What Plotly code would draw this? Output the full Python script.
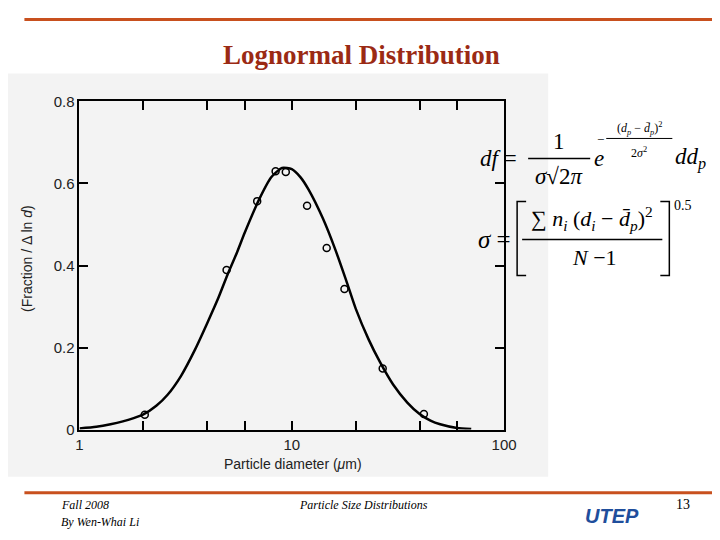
import plotly.graph_objects as go

# data
pt_d = [2.03, 4.93, 6.87, 8.39, 9.37, 11.8, 14.6, 17.7, 26.8, 41.9]
pt_f = [0.036, 0.389, 0.557, 0.630, 0.628, 0.546, 0.443, 0.343, 0.149, 0.038]
curve_d = [1.0, 1.2, 1.4, 1.6, 1.8, 2.0, 2.3, 2.6, 3.0, 3.5, 4.0, 4.5, 5.0, 5.5, 6.0, 7.0, 8.0, 9.0, 10.0, 11.0, 12.0, 14.0, 16.0, 18.0, 20.0, 23.0, 26.0, 30.0, 35.0, 40.0, 45.0, 50.0, 60.0, 70.0]
curve_f = [0.003, 0.007, 0.013, 0.020, 0.028, 0.037, 0.058, 0.085, 0.130, 0.195, 0.260, 0.320, 0.380, 0.430, 0.480, 0.560, 0.615, 0.638, 0.635, 0.615, 0.585, 0.515, 0.440, 0.365, 0.295, 0.220, 0.165, 0.110, 0.066, 0.038, 0.022, 0.013, 0.004, 0.0013]
tick_vals = [1, 2, 4, 6, 10, 20, 40, 60, 100]
tick_text = ["1", "", "", "", "10", "", "", "", "100"]

W, H = 720, 540
AX, BX = 12.6, 0.975
AY, BY = 15.6, 0.968
def px(x): return ((x - AX) / BX) / W
def py(y): return 1 - ((y - AY) / BY) / H

fig = go.Figure()
fig.add_trace(go.Scatter(x=curve_d, y=curve_f, mode="lines", line=dict(color="black", width=2.5, shape="spline", smoothing=0.6), hoverinfo="skip"))
fig.add_trace(go.Scatter(x=pt_d, y=pt_f, mode="markers", marker=dict(symbol="circle-open", color="black", size=7, line=dict(width=1.5))))

fig.update_layout(
    width=W, height=H, margin=dict(l=0, r=0, t=0, b=0), showlegend=False,
    paper_bgcolor="white", plot_bgcolor="rgba(0,0,0,0)",
    xaxis=dict(type="log", range=[0, 2], domain=[px(80), px(504)], tickvals=tick_vals, ticktext=tick_text,
               ticks="inside", ticklen=9, tickwidth=1.5, tickcolor="black", showline=True, linecolor="black",
               linewidth=2, mirror="allticks", showgrid=False, zeroline=False,
               tickfont=dict(family="Arial", size=15, color="#222")),
    yaxis=dict(range=[0, 0.8], domain=[py(428), py(100)], tickvals=[0, 0.2, 0.4, 0.6, 0.8],
               ticktext=["0", "0.2", "0.4", "0.6", "0.8"], ticks="inside", ticklen=9, tickwidth=1.5,
               tickcolor="black", showline=True, linecolor="black", linewidth=2, mirror="allticks",
               showgrid=False, zeroline=False, tickfont=dict(family="Arial", size=15, color="#222")),
)

shapes = [
    dict(type="rect", xref="paper", yref="paper", x0=px(5), x1=px(548), y0=py(475), y1=py(72),
         fillcolor="#f3f3f3", line=dict(width=0), layer="below"),
    dict(type="line", xref="paper", yref="paper", x0=px(25), x1=1, y0=py(18), y1=py(18), line=dict(color="#c8501e", width=3)),
    dict(type="line", xref="paper", yref="paper", x0=px(25), x1=1, y0=py(491), y1=py(491), line=dict(color="#c8501e", width=3)),
    dict(type="line", xref="paper", yref="paper", x0=px(528), x1=px(590), y0=py(157), y1=py(157), line=dict(color="black", width=1.5)),
    dict(type="line", xref="paper", yref="paper", x0=px(606), x1=px(672), y0=py(137), y1=py(137), line=dict(color="black", width=1)),
    dict(type="line", xref="paper", yref="paper", x0=px(522), x1=px(662), y0=py(238), y1=py(238), line=dict(color="black", width=1.5)),
    dict(type="path", xref="paper", yref="paper", path=f"M {px(526)} {py(200)} L {px(517)} {py(200)} L {px(517)} {py(274)} L {px(526)} {py(274)}", line=dict(color="black", width=1.5)),
    dict(type="path", xref="paper", yref="paper", path=f"M {px(660)} {py(200)} L {px(669)} {py(200)} L {px(669)} {py(274)} L {px(660)} {py(274)}", line=dict(color="black", width=1.5)),
]
fig.update_layout(shapes=shapes)

TF = "Times New Roman, Liberation Serif, serif"
def ann(x, y, text, size=20, color="black", font=TF, xanchor="center", **kw):
    fig.add_annotation(xref="paper", yref="paper", x=px(x), y=py(y), text=text, showarrow=False,
                       font=dict(family=font, size=size, color=color), xanchor=xanchor, yanchor="middle", **kw)

ann(362, 54, "<b>Lognormal Distribution</b>", size=27, color="#9b2a14")
ann(293, 462, "Particle diameter (<i>μ</i>m)", size=14, font="Arial", color="#222")
ann(27, 257, "(Fraction / Δ ln <i>d</i>)", size=14, font="Arial", color="#222", textangle=-90)

ann(498, 157, "<i>df</i> =", size=23)
ann(559, 140, "1", size=23)
ann(559, 175, "<i>σ</i>√2<i>π</i>", size=23)
ann(599, 157, "<i>e</i>", size=23)
ann(639, 127, "(<i>d<sub>p</sub></i> − <i>d̄<sub>p</sub></i>)<sup>2</sup>", size=12)
ann(639, 151, "2<i>σ</i><sup>2</sup>", size=12)
ann(600, 138, "−", size=13)
ann(690, 157, "<i>dd<sub>p</sub></i>", size=23)

ann(494, 238, "<i>σ</i> =", size=25)
ann(592, 217, "∑ <i>n<sub>i</sub></i> (<i>d<sub>i</sub></i> − <i>d̄<sub>p</sub></i>)<sup>2</sup>", size=22)
ann(594, 256, "<i>N</i> −1", size=22)
ann(683, 204, "0.5", size=14)

ann(60, 503, "<i>Fall 2008</i>", size=12, xanchor="left")
ann(60, 520, "<i>By Wen-Whai Li</i>", size=12, xanchor="left")
ann(297, 503, "<i>Particle Size Distributions</i>", size=12, xanchor="left")
ann(683, 503, "13", size=14)
ann(612, 514, "<b><i>UTEP</i></b>", size=20, color="#1f4e9c", font="Arial")

fig.write_html("out.html")
